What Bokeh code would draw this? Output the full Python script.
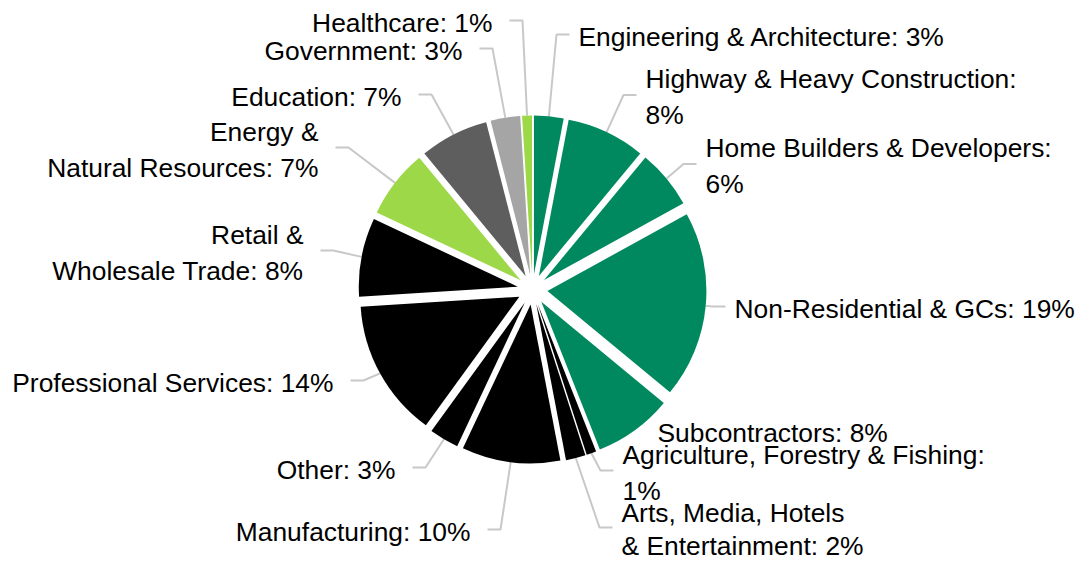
import numpy as np
from bokeh.plotting import figure
from bokeh.models import ColumnDataSource, Range1d
from bokeh.core.properties import value
from bokeh.embed import file_html
from bokeh.resources import INLINE

# ---------------- data ----------------
categories = [
    "Engineering & Architecture", "Highway & Heavy Construction", "Home Builders & Developers",
    "Non-Residential & GCs", "Subcontractors", "Agriculture, Forestry & Fishing",
    "Arts, Media, Hotels & Entertainment", "Manufacturing", "Other", "Professional Services",
    "Retail & Wholesale Trade", "Energy & Natural Resources", "Education", "Government", "Healthcare",
]
shares = [3, 8, 6, 19, 8, 1, 2, 10, 3, 14, 8, 7, 7, 3, 1]
label_texts = [
    "Engineering & Architecture: 3%",
    "Highway & Heavy Construction:\n8%",
    "Home Builders & Developers:\n6%",
    "Non-Residential & GCs: 19%",
    "Subcontractors: 8%",
    "Agriculture, Forestry & Fishing:\n1%",
    "Arts, Media, Hotels\n& Entertainment: 2%",
    "Manufacturing: 10%",
    "Other: 3%",
    "Professional Services: 14%",
    "Retail &\nWholesale Trade: 8%",
    "Energy &\nNatural Resources: 7%",
    "Education: 7%",
    "Government: 3%",
    "Healthcare: 1%",
]

# ---------------- styles / layout ----------------
GREEN, LGREEN, DGRAY, LGRAY, BLACK = "#00895E", "#9DD848", "#5E5E5E", "#A5A5A5", "#000000"
slice_colors = [GREEN, GREEN, GREEN, GREEN, GREEN, BLACK, BLACK, BLACK, BLACK, BLACK, BLACK,
                LGREEN, DGRAY, LGRAY, LGREEN]
# label anchors in picture pixels (x = text edge nearest the pie, y = block centre)
label_x = [578, 645, 705, 734, 657, 622, 621, 470, 395, 333, 303, 318, 401, 462, 492]
label_y = [36, 96.5, 165.5, 308, 432, 472, 529, 531, 469, 382, 252, 149, 96, 50, 22]
label_side = ["R", "R", "R", "R", "R", "R", "R", "L", "L", "L", "L", "L", "L", "L", "L"]
label_lh = [1.2, 1.2, 1.2, 1.2, 1.2, 1.2, 1.1, 1.2, 1.2, 1.2, 1.2, 1.2, 1.2, 1.2, 1.2]
has_leader = [True, True, True, True, False, True, True, True, True, True, True, True, True, True, True]

W, H = 1076, 565
CX, CY = 532, H - 289   # pie centre (data coords, y up)
R = 159                 # slice radius
EXPLODE = 15            # explosion of every slice

# ---------------- geometry from data ----------------
vals = np.array(shares, dtype=float)
cum = np.cumsum(vals) / vals.sum() * 360.0
a1 = np.concatenate([[0.0], cum[:-1]])   # clockwise from 12 o'clock, degrees
a2 = cum
mid = np.radians((a1 + a2) / 2)
ex = CX + EXPLODE * np.sin(mid)
ey = CY + EXPLODE * np.cos(mid)
start = np.radians(90 - a2)
end = np.radians(90 - a1)

pie_src = ColumnDataSource(dict(x=ex, y=ey, start=start, end=end, color=slice_colors,
                                cat=categories, share=shares))

p = figure(width=W, height=H, x_range=Range1d(0, W), y_range=Range1d(0, H),
           output_backend="svg", toolbar_location=None, x_axis_type=None, y_axis_type=None,
           min_border=0, outline_line_color=None, background_fill_color="white",
           border_fill_color="white")

# leader lines
xs, ys = [], []
for i in range(len(shares)):
    if not has_leader[i]:
        continue
    ly = H - (label_y[i] - 2)
    if label_side[i] == "L":
        sx = label_x[i] + 17
        kx = sx + 13
    else:
        sx = label_x[i] - 9
        kx = sx - 13
    ox = ex[i] + R * np.sin(mid[i])
    oy = ey[i] + R * np.cos(mid[i])
    xs.append([sx, kx, ox])
    ys.append([ly, ly, oy])
p.multi_line(xs=xs, ys=ys, line_color="#C8C8C8", line_width=2)

p.wedge(x="x", y="y", radius=R, start_angle="start", end_angle="end",
        fill_color="color", line_color=None, source=pie_src)

# labels
for side, align in (("L", "right"), ("R", "left")):
    for lh in sorted(set(label_lh)):
        idx = [i for i in range(len(shares)) if label_side[i] == side and label_lh[i] == lh]
        if not idx:
            continue
        src = ColumnDataSource(dict(x=[label_x[i] for i in idx],
                                    y=[H - label_y[i] for i in idx],
                                    t=[label_texts[i] for i in idx]))
        p.text(x="x", y="y", text="t", source=src, text_align=align, text_baseline="middle",
               text_font=value("Liberation Sans"), text_font_size="26.4px", text_color="#000000",
               text_line_height=lh)

open("out.html", "w").write(file_html(p, INLINE))
